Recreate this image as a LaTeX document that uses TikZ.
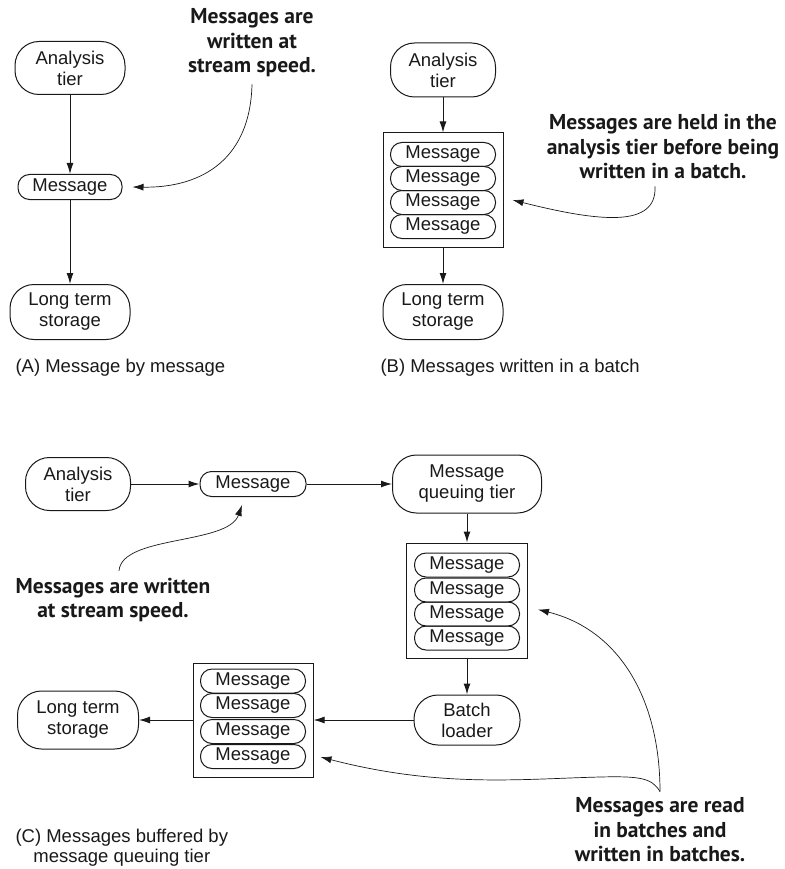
\documentclass[tikz,border=0pt]{standalone}
\usepackage{fontspec}
\setmainfont{Liberation Sans}
\newfontfamily\calloutfont{PT Sans}
\usetikzlibrary{arrows.meta}
\begin{document}
\begin{tikzpicture}[x=1pt,y=-1pt,
  every node/.style={font=\fontsize{18.5}{21}\selectfont, text=black!90},
  rbox/.style={draw=black!90, rounded corners=24pt, align=center, inner sep=0pt, line width=1pt},
  pill/.style={draw=black!90, rounded corners=11.5pt, inner sep=0pt, minimum width=105pt, minimum height=24pt, line width=1pt},
  frame/.style={draw=black!90, inner sep=0pt, line width=1pt, minimum width=120pt, minimum height=114pt},
  arr/.style={-{Latex[length=11pt,width=7pt]}, line width=1pt, draw=black!90},
  carr/.style={-{Latex[length=11pt,width=7pt]}, line width=0.7pt, draw=black!90},
  callout/.style={font=\calloutfont\bfseries\fontsize{21.5}{24.5}\selectfont, align=center, inner sep=1pt},
  caption/.style={font=\fontsize{18.5}{20}\selectfont, align=center}]
\useasboundingbox (0,0) rectangle (784,869);

% ---------- Panel A ----------
\node[rbox, minimum width=110pt, minimum height=53pt] (a1) at (70,68) {Analysis\\tier};
\node[pill, minimum width=104pt, minimum height=25pt] (m1) at (70,187) {Message};
\node[rbox, minimum width=120pt, minimum height=55pt] (l1) at (70,312) {Long term\\storage};
\draw[arr] (a1) -- (m1);
\draw[arr] (m1) -- (l1);
\node[callout] (ca) at (252,43) {Messages are\\written at\\stream speed.};
\draw[carr] ([yshift=-6pt]ca.south) .. controls (250,165) and (195,188) .. ([xshift=10pt]m1.east);
\node[caption, anchor=west] (capa) at (12,368) {(A) Message by message};

% ---------- Panel B ----------
\node[rbox, minimum width=105pt, minimum height=54pt] (a2) at (443,70) {Analysis\\tier};
\node[frame] (bx2) at (443,190) {};
\node[pill] (p21) at (443,154.5) {Message};
\node[pill] (p22) at (443,178.5) {Message};
\node[pill] (p23) at (443,202.5) {Message};
\node[pill] (p24) at (443,226.5) {Message};
\node[rbox, minimum width=120pt, minimum height=55pt] (l2) at (443,312) {Long term\\storage};
\draw[arr] (a2) -- (bx2);
\draw[arr] (bx2) -- (l2);
\node[callout] (cb) at (663,147) {Messages are held in the\\analysis tier before being\\written in a batch.};
\draw[carr] ([xshift=-8pt,yshift=-6pt]cb.south) .. controls (657,228) and (600,222) .. ([xshift=9pt,yshift=-10pt]bx2.east);
\node[caption, anchor=west] (capb) at (377,368) {(B) Messages written in a batch};

% ---------- Panel C ----------
\node[rbox, minimum width=105pt, minimum height=53pt] (a3) at (78,484) {Analysis\\tier};
\node[pill, minimum width=106pt, minimum height=25pt] (m3) at (253,484) {Message};
\node[rbox, minimum width=149pt, minimum height=58pt] (q3) at (467,484) {Message\\queuing tier};
\draw[arr] (a3) -- (m3);
\draw[arr] (m3) -- (q3);

\node[frame, minimum width=121pt, minimum height=115pt] (bx1) at (467,600.5) {};
\node[pill] (p11) at (467,565) {Message};
\node[pill] (p12) at (467,590) {Message};
\node[pill] (p13) at (467,614) {Message};
\node[pill] (p14) at (467,638) {Message};
\draw[arr] (q3) -- (bx1);

\node[rbox, minimum width=106pt, minimum height=50pt] (bl) at (467,720) {Batch\\loader};
\draw[arr] (bx1) -- (bl);

\node[frame] (bx3) at (253,720) {};
\node[pill] (p31) at (253,681) {Message};
\node[pill] (p32) at (253,705.5) {Message};
\node[pill] (p33) at (253,731.5) {Message};
\node[pill] (p34) at (253,756.5) {Message};
\draw[arr] (bl) -- (bx3);

\node[rbox, minimum width=121pt, minimum height=58pt] (l3) at (78,720) {Long term\\storage};
\draw[arr] (bx3) -- (l3);

\node[callout] (cc) at (113,600) {Messages are written\\at stream speed.};
\draw[carr] ([xshift=6pt,yshift=6pt]cc.north) .. controls (122,535) and (228,545) .. ([xshift=-11pt,yshift=-8pt]m3.south);

\node[callout] (cd) at (660,830) {Messages are read\\in batches and\\written in batches.};
\draw[carr] ([yshift=5pt]cd.north) .. controls (660,700) and (620,630) .. ([xshift=10pt,yshift=-9pt]bx1.east);
\draw[carr] ([yshift=5pt]cd.north) .. controls (652,778) and (640,776) .. (600,777) .. controls (520,779) and (440,788) .. ([xshift=7pt,yshift=-37pt]bx3.east);

\node[caption, anchor=west] (capc) at (12,848) {(C) Messages buffered by\\message queuing tier};
\end{tikzpicture}
\end{document}
